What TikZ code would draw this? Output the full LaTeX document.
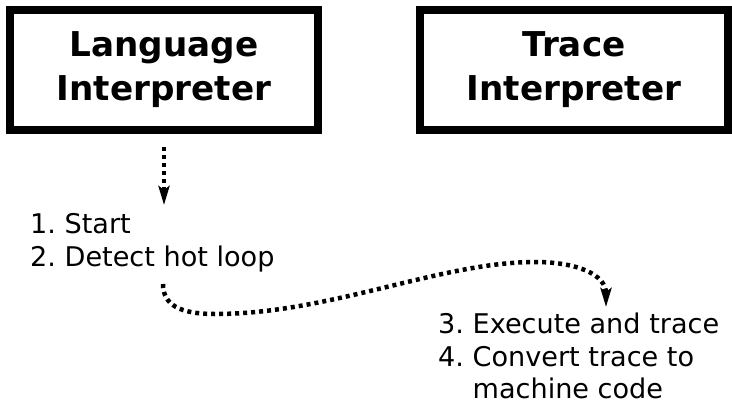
\documentclass[tikz,border=0pt]{standalone}
\usepackage{fontspec}
\setmainfont{DejaVu Sans}
\usetikzlibrary{arrows.meta,positioning,calc}
\frenchspacing

\begin{document}
\begin{tikzpicture}[
    x=1pt, y=1pt,
    interp/.style={rectangle, draw, line width=8pt, minimum width=308pt, minimum height=120pt, align=center, inner sep=0pt, font=\fontsize{34.2}{44}\selectfont\bfseries},
    steps/.style={align=left, inner sep=0pt, font=\fontsize{27.1}{33}\selectfont},
    flow/.style={-{Stealth[length=19pt, width=11pt, inset=4pt]}, line width=4.5pt, dash pattern=on 4pt off 4pt}
]
\useasboundingbox (0,0) rectangle (732,-405);

% Interpreters
\node[interp] (lang) at (164,-70) {Language\\Interpreter};
\node[interp] (trace) at (574,-70) {Trace\\Interpreter};

% Steps
\node[steps, anchor=base west] (start) at (30,-266.5) {1. Start\\2. Detect hot loop};
\node[steps, anchor=base west, font=\fontsize{27.1}{32.5}\selectfont] (exec) at (438,-398.5) {3. Execute and trace\\4. Convert trace to\\\hphantom{4.\ }machine code};

% Arrow ends
\coordinate (tip1) at (164,-205);
\coordinate (hot) at (163,-284);
\coordinate (tip2) at (606,-307);

% Flow
\draw[flow, shorten <=13pt] (lang.south) -- (tip1);
\draw[flow] (hot) .. controls (163,-305) and (180,-314) .. (215,-314)
    .. controls (330,-314) and (440,-262) .. (535,-262)
    .. controls (578,-262) and (606,-275) .. (tip2);

\end{tikzpicture}
\end{document}
